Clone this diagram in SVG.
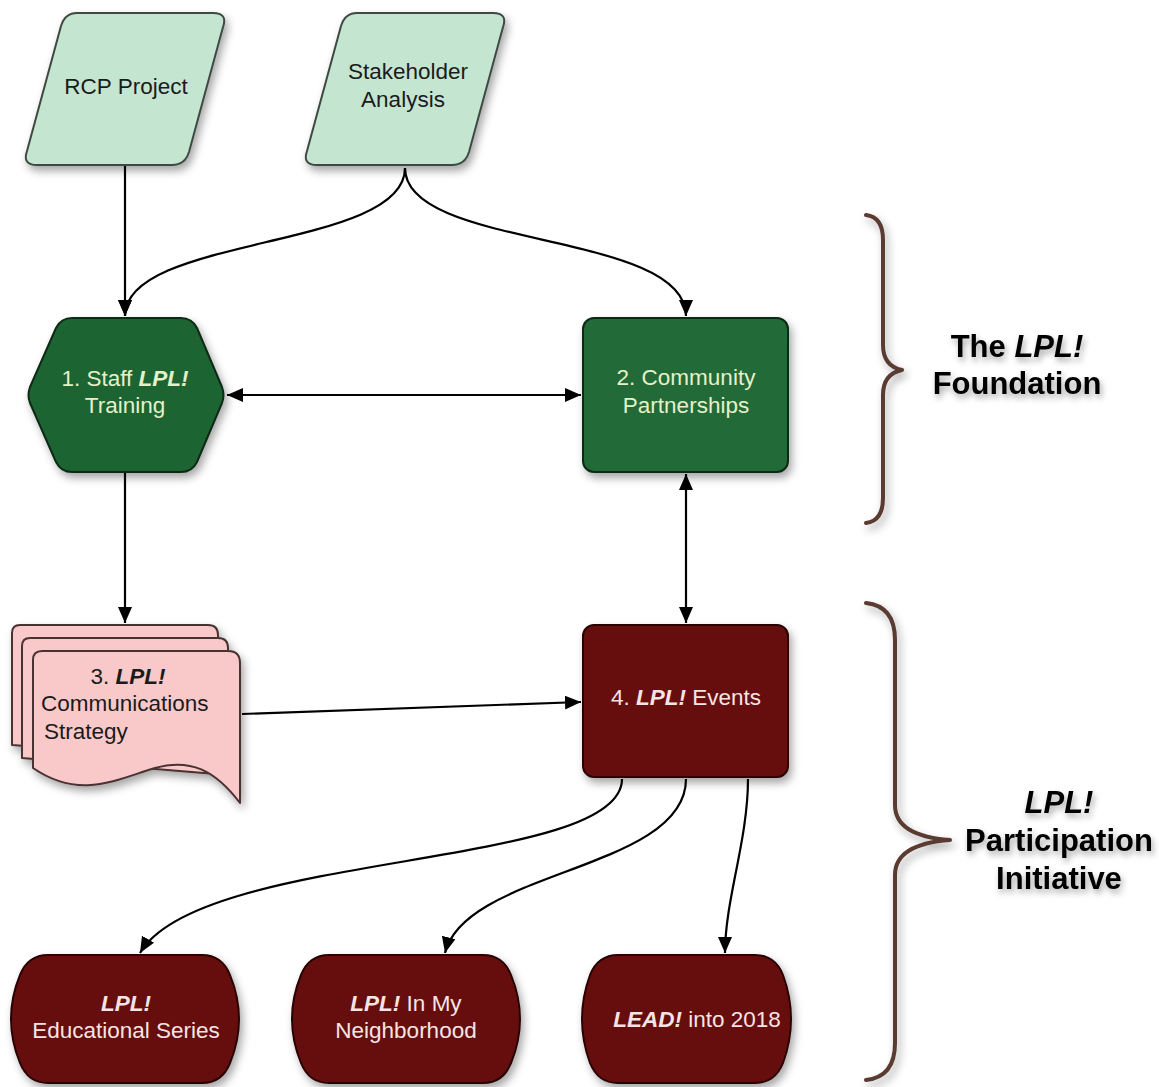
<svg xmlns="http://www.w3.org/2000/svg" width="1159" height="1087" viewBox="0 0 1159 1087">
<defs>
<filter id="sh" x="-20%" y="-20%" width="150%" height="150%">
<feDropShadow dx="3" dy="5" stdDeviation="4" flood-color="#000" flood-opacity="0.35"/>
</filter>
<filter id="tsh" x="-20%" y="-40%" width="140%" height="200%">
<feDropShadow dx="2" dy="4" stdDeviation="3" flood-color="#000" flood-opacity="0.35"/>
</filter>
<marker id="ah" markerUnits="userSpaceOnUse" markerWidth="18" markerHeight="14" refX="16" refY="7" orient="auto-start-reverse">
<path d="M0,0 L16,7 L0,14 z" fill="#000"/>
</marker>
</defs>
<style>
.t{font-family:"Liberation Sans",Arial,sans-serif;font-size:22.5px;text-anchor:middle}
.dark{fill:#1b1b1b}
.lg{fill:#e6f0c9}
.lr{fill:#f6e4e4}
.b{font-weight:bold;font-style:italic}
.para{fill:#c4e5d0;stroke:#3e4a42;stroke-width:2;stroke-linejoin:round}
.grn{fill:#1c6532;stroke:#0d2a15;stroke-width:2;stroke-linejoin:round}
.red{fill:#660b0c;stroke:#2a0505;stroke-width:2;stroke-linejoin:round}
.doc{fill:#f9c9c9;stroke:#4a3232;stroke-width:2;stroke-linejoin:round}
.con{fill:none;stroke:#000;stroke-width:2.2}
.brace{fill:none;stroke:#5a3a32;stroke-width:4;stroke-linecap:round;stroke-linejoin:round}
.lbl{font-family:"Liberation Sans",Arial,sans-serif;font-size:31px;font-weight:bold;text-anchor:middle;fill:#000}
</style>

<g id="connectors">
<path class="con" d="M125,166 L125,316" marker-end="url(#ah)"/>
<path class="con" d="M405,168 C405,250 125,235 125,316" marker-end="url(#ah)"/>
<path class="con" d="M405,168 C405,250 686,230 686,316" marker-end="url(#ah)"/>
<path class="con" d="M227,395 L581,395" marker-start="url(#ah)" marker-end="url(#ah)"/>
<path class="con" d="M125,473 L125,623" marker-end="url(#ah)"/>
<path class="con" d="M686,474 L686,623" marker-start="url(#ah)" marker-end="url(#ah)"/>
<path class="con" d="M242,714 L581,702" marker-end="url(#ah)"/>
<path class="con" d="M622,779 C622,870 200,850 140,953" marker-end="url(#ah)"/>
<path class="con" d="M686,779 C686,870 465,870 445,953" marker-end="url(#ah)"/>
<path class="con" d="M748,779 C748,840 725,900 725,953" marker-end="url(#ah)"/>
</g>

<g id="rcp">
<path class="para" filter="url(#sh)" d="M77,13 L213,13 Q228,13 223,27 L189,152 Q185,165 172,165 L37,165 Q22,165 27,151 L61,26 Q65,13 77,13 Z"/>
<text class="t dark" x="126" y="94">RCP Project</text>
</g>

<g id="stakeholder">
<path class="para" filter="url(#sh)" d="M357,13 L493,13 Q508,13 503,27 L469,152 Q465,165 452,165 L317,165 Q302,165 307,151 L341,26 Q345,13 357,13 Z"/>
<text class="t dark" x="408" y="79">Stakeholder</text>
<text class="t dark" x="403" y="107">Analysis</text>
</g>

<g id="n1">
<path class="grn" filter="url(#sh)" d="M72,318 L181,318 Q192,318 197,328 L222,387 Q225,395 222,403 L197,462 Q192,472 181,472 L72,472 Q61,472 56,462 L30,403 Q27,395 30,387 L56,328 Q61,318 72,318 Z"/>
<text class="t lg" x="125" y="386">1. Staff <tspan class="b">LPL!</tspan></text>
<text class="t lg" x="125" y="413">Training</text>
</g>

<g id="n2">
<rect class="grn" filter="url(#sh)" x="583" y="318" width="205" height="154" rx="11" ry="11" style="fill:#216b37"/>
<text class="t lg" x="686" y="385">2. Community</text>
<text class="t lg" x="686" y="413">Partnerships</text>
</g>

<g id="n3">
<g filter="url(#sh)">
<path class="doc" d="M12,633 Q12,625 20,625 L208,625 Q218,625 218,635 L218,760 L12,745 Z"/>
<path class="doc" d="M22,646 Q22,638 30,638 L218,638 Q228,638 228,648 L228,775 L22,758 Z"/>
<path class="doc" d="M33,660 Q33,651 42,651 L228,651 Q240,651 240,663 L240,803 C215,770 190,758 155,768 C115,780 80,800 33,768 Z"/>
</g>
<text class="t dark" x="128" y="684">3. <tspan class="b">LPL!</tspan></text>
<text class="t dark" x="41" y="711" style="text-anchor:start">Communications</text>
<text class="t dark" x="44" y="739" style="text-anchor:start">Strategy</text>
</g>

<g id="n4">
<rect class="red" filter="url(#sh)" x="583" y="625" width="205" height="152" rx="11" ry="11"/>
<text class="t lr" x="686" y="705">4. <tspan class="b">LPL!</tspan> Events</text>
</g>

<g id="n5">
<path class="red" filter="url(#sh)" d="M48,955 L202,955 Q222,955 230,975 Q248,1019 230,1063 Q222,1083 202,1083 L48,1083 Q28,1083 20,1063 Q2,1019 20,975 Q28,955 48,955 Z"/>
<text class="t lr" x="126" y="1011"><tspan class="b">LPL!</tspan></text>
<text class="t lr" x="126" y="1038">Educational Series</text>
</g>

<g id="n6">
<path class="red" filter="url(#sh)" d="M329,955 L483,955 Q503,955 511,975 Q529,1019 511,1063 Q503,1083 483,1083 L329,1083 Q309,1083 301,1063 Q283,1019 301,975 Q309,955 329,955 Z"/>
<text class="t lr" x="406" y="1011"><tspan class="b">LPL!</tspan> In My</text>
<text class="t lr" x="406" y="1038">Neighborhood</text>
</g>

<g id="n7">
<path class="red" filter="url(#sh)" d="M618,955 L755,955 Q775,955 783,975 Q799,1019 783,1063 Q775,1083 755,1083 L618,1083 Q598,1083 590,1063 Q574,1019 590,975 Q598,955 618,955 Z"/>
<text class="t lr" x="697" y="1027"><tspan class="b">LEAD!</tspan> into 2018</text>
</g>

<g id="brace1">
<path class="brace" filter="url(#sh)" d="M866,215 Q883,217 883,240 L883,345 Q883,366 902,370 Q883,374 883,395 L883,498 Q883,521 866,523"/>
<text class="lbl" filter="url(#tsh)" x="1017" y="357">The <tspan font-style="italic">LPL!</tspan></text>
<text class="lbl" filter="url(#tsh)" x="1017" y="394">Foundation</text>
</g>

<g id="brace2">
<path class="brace" filter="url(#sh)" d="M866,603 Q895,606 895,640 L895,805 Q895,836 950,840 Q895,844 895,875 L895,1043 Q895,1077 866,1080"/>
<text class="lbl" filter="url(#tsh)" x="1059" y="813" font-style="italic">LPL!</text>
<text class="lbl" filter="url(#tsh)" x="1059" y="851">Participation</text>
<text class="lbl" filter="url(#tsh)" x="1059" y="889">Initiative</text>
</g>
</svg>
